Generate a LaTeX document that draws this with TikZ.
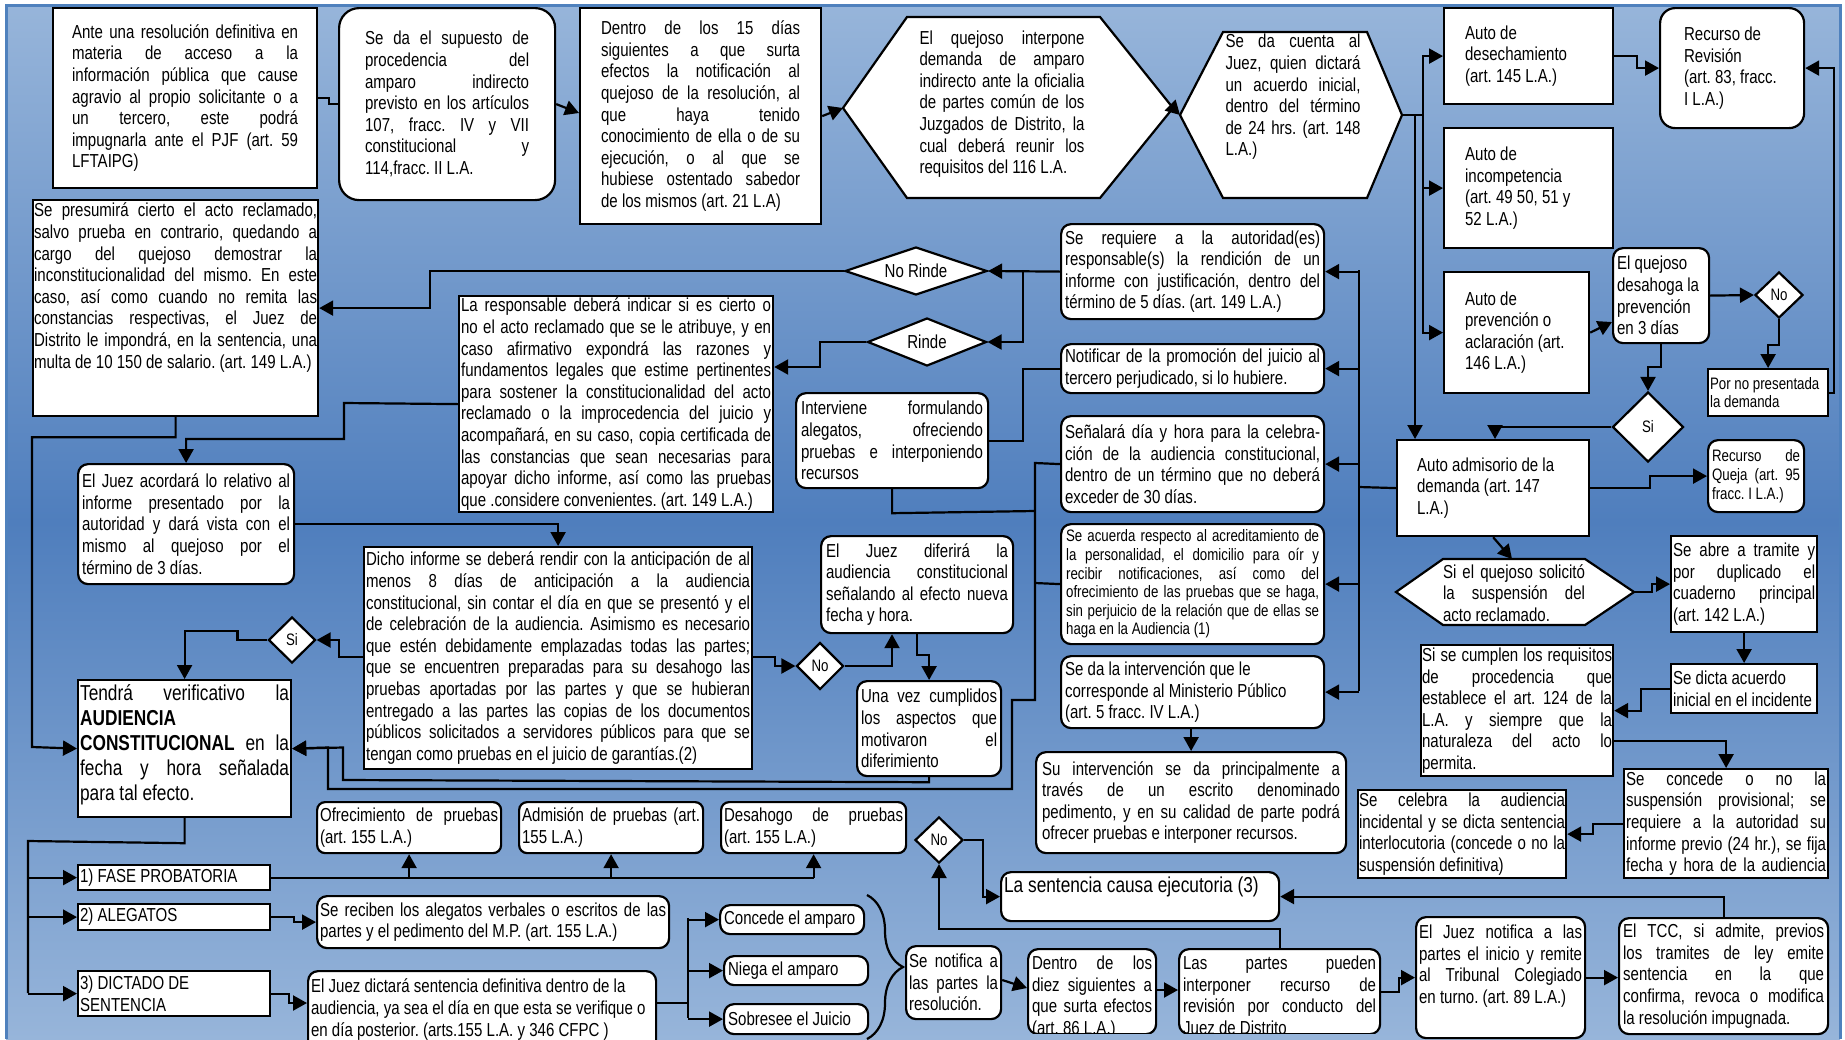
\documentclass[tikz,border=0pt]{standalone}
\usepackage{fontspec}
\setmainfont{Liberation Sans}[FakeStretch=0.80, WordSpace={1,4,0}]
\usetikzlibrary{arrows.meta,shapes.geometric}
\usetikzlibrary{decorations.pathreplacing}
\definecolor{fondoclaro}{HTML}{97B5DA}
\definecolor{fondooscuro}{HTML}{4F7EBD}
\definecolor{borde}{HTML}{4F81BD}
\newdimen\pxu \pxu=0.5pt
\tolerance=10000 \emergencystretch=2em \hbadness=10000 \hfuzz=3pt
\hyphenpenalty=10000 \exhyphenpenalty=10000
\adjdemerits=0 \linepenalty=200 \frenchspacing
\newcommand\letranormal{\fontsize{9.4}{10.8}\selectfont}
\newcommand\letrachica{\fontsize{8.3}{9.3}\selectfont}
\newcommand\letragrande{\fontsize{10.8}{12.5}\selectfont}
\newcommand\lb{\linebreak}
% caja: estilo, nombre, x1, y1, x2, y2, margen, alineacion vertical, texto
\newcommand\bx[9]{%
  \node[#1, anchor=north west, inner xsep=#7*0.5pt, inner ysep=0pt] (#2) at (#3,#4)
    {\parbox[t][\dimexpr#6\pxu-#4\pxu\relax][#8]{\dimexpr#5\pxu-#3\pxu-#7\pxu-#7\pxu\relax}{#9}};}

\begin{document}
\begin{tikzpicture}[x=0.5pt,y=-0.5pt,
    cuad/.style={draw, line width=1.1pt, fill=white, font=\letranormal},
    redo/.style={cuad, rounded corners=5pt},
    rombo/.style={draw, line width=1.1pt, fill=white, diamond, inner sep=0pt, font=\letrachica},
    texto/.style={inner sep=0pt, align=justify, font=\letranormal},
    ln/.style={line width=1.1pt},
    fl/.style={line width=1.1pt, -{Triangle[length=7pt,width=7.5pt]}}]
\useasboundingbox (0,0) rectangle (1845,1039);
\clip (0,0) rectangle (1845,1039);
\shade[top color=fondoclaro, bottom color=fondoclaro, middle color=fondooscuro] (6,5) rectangle (1840,1039);
\draw[borde, line width=1.5pt] (6,1039) -- (6,5) -- (1840,5) -- (1840,1039);

% fila superior
\bx{cuad}{ante}{52}{7}{316}{187}{19}{c}{Ante una resolución definitiva en\lb materia de acceso a la\lb información pública que cause\lb agravio al propio solicitante o a\lb un tercero, este podrá\lb impugnarla ante el PJF (art. 59\lb LFTAIPG)}
\bx{cuad, rounded corners=10pt}{supuesto}{338}{7}{554}{199}{26}{c}{Se da el supuesto de\lb procedencia del\lb amparo indirecto\lb previsto en los artículos\lb 107, fracc. IV y VII\lb constitucional y\lb 114,fracc. II L.A.}
\bx{cuad}{dentro15}{579}{7}{820}{223}{21}{c}{Dentro de los 15 días\lb siguientes a que surta\lb efectos la notificación al\lb quejoso de la resolución, al\lb que haya tenido\lb conocimiento de ella o de su\lb ejecución, o al que se\lb hubiese ostentado sabedor\lb de los mismos (art. 21 L.A)}
\draw[cuad] (843,108) -- (907,17) -- (1100,17) -- (1173,108) -- (1100,198) -- (907,198) -- cycle;
\node[texto, text width=82.5pt] (quejoso) at (1002,104) {El quejoso interpone\lb demanda de amparo\lb indirecto ante la oficialia\lb de partes común de los\lb Juzgados de Distrito, la\lb cual deberá reunir los\lb requisitos del 116 L.A.};
\coordinate (quejosoO) at (843,108);
\coordinate (quejosoE) at (1173,108);
\draw[cuad] (1180,115) -- (1223,32) -- (1367,32) -- (1402,115) -- (1367,198) -- (1223,198) -- cycle;
\node[texto, text width=67.5pt] (juez) at (1293,97) {Se da cuenta al\lb Juez, quien dictará\lb un acuerdo inicial,\lb dentro del término\lb de 24 hrs. (art. 148\lb L.A.)};
\coordinate (juezO) at (1180,115);
\coordinate (juezE) at (1402,115);
\coordinate (nudo1) at (1423,115);
\coordinate (nudo2) at (1415,115);

% columna derecha
\bx{cuad}{desech}{1443}{7}{1612}{103}{21}{c}{\raggedright Auto de\\ desechamiento\\ (art. 145 L.A.)}
\bx{cuad}{incomp}{1443}{127}{1612}{247}{21}{c}{\raggedright Auto de\\ incompetencia\\ (art. 49 50, 51 y\\ 52 L.A.)}
\bx{cuad}{prevenc}{1443}{271}{1588}{392}{21}{c}{\raggedright Auto de\\ prevención o\\ aclaración (art.\\ 146 L.A.)}
\bx{cuad, rounded corners=7.5pt}{revision}{1659}{7}{1803}{127}{24}{c}{\raggedright Recurso de\\ Revisión\\ (art. 83, fracc.\\ I L.A.)}
\bx{redo}{desahoga}{1612}{247}{1708}{342}{4}{c}{\raggedright El quejoso\\ desahoga la\\ prevención\\ en 3 días}
\node[rombo, minimum width=24pt, minimum height=23pt] (dno) at (1779,295) {No};
\bx{cuad, font=\letrachica}{nopres}{1707}{368}{1827}{415}{2}{c}{\raggedright Por no presentada\\ la demanda}
\node[rombo, minimum width=35.5pt, minimum height=35pt] (dsi) at (1648,427) {Si};
\bx{cuad}{admisorio}{1396}{439}{1588}{535}{20}{c}{\raggedright Auto admisorio de la\\ demanda (art. 147\\ L.A.)}
\bx{redo, font=\letrachica}{queja}{1707}{439}{1803}{511}{4}{c}{Recurso de\lb Queja (art. 95\lb fracc. I L.A.)}
\draw[cuad] (1396,592) -- (1443,559) -- (1585,559) -- (1634,592) -- (1585,625) -- (1443,625) -- cycle;
\node[texto, text width=71pt] (solicito) at (1514,593) {Si el quejoso solicitó\lb la suspensión del\lb acto reclamado.};
\coordinate (solicitoN) at (1512,559);
\coordinate (solicitoE) at (1634,592);
\bx{cuad}{seabre}{1670}{535}{1816}{631}{2}{c}{Se abre a tramite y\lb por duplicado el\lb cuaderno principal\lb (art. 142 L.A.)}
\bx{cuad}{sedicta}{1670}{663}{1816}{712}{2}{c}{\raggedright Se dicta acuerdo\\ inicial en el incidente}
\bx{cuad}{sicumplen}{1420}{644}{1612}{775}{1}{c}{Si se cumplen los requisitos\lb de procedencia que\lb establece el art. 124 de la\lb L.A. y siempre que la\lb naturaleza del acto lo\lb permita.}
\bx{cuad}{seconcede}{1623}{768}{1827}{877}{2}{c}{\parfillskip=0pt Se concede o no la\lb suspensión provisional; se\lb requiere a la autoridad su\lb informe previo (24 hr.), se fija\lb fecha y hora de la audiencia}
\bx{cuad}{secelebra}{1357}{789}{1565}{877}{1}{c}{Se celebra la audiencia\lb incidental y se dicta sentencia\lb interlocutoria (concede o no la\lb suspensión definitiva)}

% columna central
\bx{redo}{requiere}{1060}{223}{1323}{318}{4}{c}{Se requiere a la autoridad(es)\lb responsable(s) la rendición de un\lb informe con justificación, dentro del\lb término de 5 días. (art. 149 L.A.)}
\bx{redo}{notificar}{1060}{343}{1323}{392}{4}{c}{Notificar de la promoción del juicio al\lb tercero perjudicado, si lo hubiere.}
\bx{redo}{senalara}{1060}{415}{1323}{511}{4}{c}{Señalará día y hora para la celebra-\lb ción de la audiencia constitucional,\lb dentro de un término que no deberá\lb exceder de 30 días.}
\bx{redo, font=\letrachica}{acuerda}{1060}{523}{1323}{643}{5}{c}{Se acuerda respecto al acreditamiento de\lb la personalidad, el domicilio para oír y\lb recibir notificaciones, así como del\lb ofrecimiento de las pruebas que se haga,\lb sin perjuicio de la relación que de ellas se\lb haga en la Audiencia (1)}
\bx{redo}{interv}{1060}{655}{1323}{727}{4}{c}{\raggedright Se da la intervención que le\\ corresponde al Ministerio Público\\ (art. 5 fracc. IV L.A.)}
\bx{redo}{suinterv}{1035}{751}{1345}{852}{6}{c}{Su intervención se da principalmente a\lb través de un escrito denominado\lb pedimento, y en su calidad de parte podrá\lb ofrecer pruebas e interponer recursos.}
\node[rombo, font=\letranormal, aspect=3, minimum width=71pt, minimum height=24pt] (norinde) at (916,271) {No Rinde};
\node[rombo, font=\letranormal, aspect=2.5, minimum width=59.5pt, minimum height=24pt] (rinde) at (927,342) {Rinde};
\bx{redo}{interviene}{795}{392}{987}{487}{5}{c}{Interviene formulando\lb alegatos, ofreciendo\lb pruebas e interponiendo\lb recursos}
\bx{redo}{diferira}{820}{535}{1012}{632}{5}{c}{El Juez diferirá la\lb audiencia constitucional\lb señalando al efecto nueva\lb fecha y hora.}
\node[rombo, minimum width=23.5pt, minimum height=23.5pt] (dno2) at (820,666) {No};
\bx{redo}{cumplidos}{856}{680}{1000}{775}{4}{c}{Una vez cumplidos\lb los aspectos que\lb motivaron el\lb diferimiento}

% columna izquierda
\bx{cuad}{presumira}{32}{199}{317}{415}{1}{t}{\vspace*{3\pxu}Se presumirá cierto el acto reclamado,\lb salvo prueba en contrario, quedando a\lb cargo del quejoso demostrar la\lb inconstitucionalidad del mismo. En este\lb caso, así como cuando no remita las\lb constancias respectivas, el Juez de\lb Distrito le impondrá, en la sentencia, una\lb multa de 10 150 de salario. (art. 149 L.A.)}
\bx{cuad}{responsable}{458}{295}{772}{511}{2}{c}{La responsable deberá indicar si es cierto o\lb no el acto reclamado que se le atribuye, y en\lb caso afirmativo expondrá las razones y\lb fundamentos legales que estime pertinentes\lb para sostener la constitucionalidad del acto\lb reclamado o la improcedencia del juicio y\lb acompañará, en su caso, copia certificada de\lb las constancias que sean necesarias para\lb apoyar dicho informe, así como las pruebas\lb que .considere convenientes. (art. 149 L.A.)}
\bx{redo}{acordara}{77}{463}{293}{583}{4}{c}{El Juez acordará lo relativo al\lb informe presentado por la\lb autoridad y dará vista con el\lb mismo al quejoso por el\lb término de 3 días.}
\bx{cuad}{dicho}{363}{546}{751}{768}{2}{c}{Dicho informe se deberá rendir con la anticipación de al\lb menos 8 días de anticipación a la audiencia\lb constitucional, sin contar el día en que se presentó y el\lb de celebración de la audiencia. Asimismo es necesario\lb que estén debidamente emplazadas todas las partes;\lb que se encuentren preparadas para su desahogo las\lb pruebas aportadas por las partes y que se hubieran\lb entregado a las partes las copias de los documentos\lb públicos solicitados a servidores públicos para que se\lb tengan como pruebas en el juicio de garantías.(2)}
\node[rombo, minimum width=23.5pt, minimum height=23pt] (dsi2) at (292,640) {Si};
\bx{cuad, font=\letragrande}{tendra}{77}{679}{290}{816}{2}{t}{\vspace*{4\pxu}Tendrá verificativo la\lb\textbf{AUDIENCIA}\newline\textbf{CONSTITUCIONAL} en la\lb fecha y hora señalada\lb para tal efecto.}

% fila inferior
\bx{cuad}{fase1}{77}{864}{269}{889}{2}{c}{1) FASE PROBATORIA}
\bx{cuad}{fase2}{77}{903}{269}{929}{2}{c}{2) ALEGATOS}
\bx{cuad}{fase3}{77}{970}{269}{1015}{2}{c}{\raggedright 3) DICTADO DE\\ SENTENCIA}
\bx{redo, rounded corners=4pt}{ofrec}{316}{801}{500}{852}{3}{c}{Ofrecimiento de pruebas\lb (art. 155 L.A.)}
\bx{redo, rounded corners=4pt}{admision}{518}{801}{702}{852}{3}{c}{Admisión de pruebas (art.\lb 155 L.A.)}
\bx{redo, rounded corners=4pt}{desahogo}{720}{801}{905}{852}{3}{c}{Desahogo de pruebas\lb (art. 155 L.A.)}
\bx{redo}{alegatos}{316}{895}{668}{947}{3}{c}{Se reciben los alegatos verbales o escritos de las\lb partes y el pedimento del M.P. (art. 155 L.A.)}
\bx{redo}{dictara}{307}{970}{655}{1050}{3}{t}{\vspace*{8\pxu}\raggedright El Juez dictará sentencia definitiva dentro de la\\ audiencia, ya sea el día en que esta se verifique o\\ en día posterior. (arts.155 L.A. y 346 CFPC )}
\bx{redo}{concede}{719}{904}{863}{933}{4}{c}{Concede el amparo}
\bx{redo}{niega}{723}{955}{867}{984}{4}{c}{Niega el amparo}
\bx{redo}{sobresee}{723}{1003}{867}{1033}{4}{c}{Sobresee el Juicio}
\bx{redo}{senotifica}{905}{945}{1000}{1018}{3}{c}{Se notifica a\lb las partes la\lb resolución.}
\begin{scope}
\clip (1020,940) rectangle (1390,1033);
\bx{redo}{diez}{1027}{948}{1155}{1033}{4}{t}{\vspace*{7\pxu}Dentro de los\lb diez siguientes a\lb que surta efectos\lb (art. 86 L.A.)}
\bx{redo}{partes}{1178}{948}{1379}{1033}{4}{t}{\vspace*{7\pxu}Las partes pueden\lb interponer recurso de\lb revisión por conducto del\lb Juez de Distrito}
\end{scope}
\bx{redo}{notifica}{1415}{916}{1584}{1037}{3}{t}{\vspace*{8\pxu}El Juez notifica a las\lb partes el inicio y remite\lb al Tribunal Colegiado\lb en turno.~(art.~89~L.A.)}
\bx{redo}{tcc}{1618}{917}{1827}{1033}{4}{c}{El TCC, si admite, previos\lb los tramites de ley emite\lb sentencia en la que\lb confirma, revoca o modifica\lb la resolución impugnada.}
\bx{redo, font=\letragrande}{ejecutoria}{1000}{871}{1278}{920}{3}{t}{\vspace*{5\pxu}La sentencia causa ejecutoria (3)}
\node[rombo, minimum width=24pt, minimum height=23pt] (dno3) at (939,840) {No};

% conectores de arriba
\draw[ln] (ante.east) -- ++(11,0) |- (supuesto.west);
\draw[fl] (supuesto.east) -- (dentro15.west |- 0,113);
\draw[fl] (dentro15.east) -- (quejosoO);
\draw[fl] (quejosoE) -- (juezO);
\draw[ln] (juezE) -- (nudo1);
\foreach \n in {desech,incomp,prevenc} \draw[fl] (nudo1) |- (\n.west);
\draw[fl] (nudo2) -- (admisorio.north -| nudo2);
\draw[fl] (desech.east) -- ++(23,0) |- (revision.west);
\draw[fl] (prevenc.east) -- (desahoga.west |- 0,322);
\draw[fl] (desahoga.east) -- (dno.west);
\draw[fl] (dno.south) -- ++(0,26) -| (nopres.north);
\draw[fl] (nopres.east) -- ++(5,0) |- (revision.east);
\draw[fl] (desahoga.south) -- ++(0,23) -| (dsi.north);
\draw[fl] (dsi.west) -| (admisorio.north -| 1495,0);
\draw[fl] (admisorio.east) -- ++(60,0) |- (queja.west);
\draw[fl] (admisorio.south) -- (solicitoN);
\draw[fl] (solicitoE) -- ++(18,0) |- (seabre.west);
\draw[fl] (seabre.south) -- (sedicta.north);
\draw[fl] (sedicta.west) -- ++(-29,0) |- (sicumplen.east);
\draw[fl] (sicumplen.east |- 0,741) -| (seconcede.north);
\draw[fl] (seconcede.west) -- ++(-30,0) |- (secelebra.east);

% bus del auto admisorio
\draw[ln] (admisorio.west) -- (1359,487);
\draw[ln] (1359,270) -- (1359,691);
\foreach \n in {requiere,notificar,senalara,acuerda,interv} \draw[fl] (\n.east -| 1359,0) -- (\n.east);
\draw[fl] (interv.south -| suinterv.north) -- (suinterv.north);
\draw[fl] (requiere.west) -- (norinde.east);
\draw[fl] (requiere.west -| 1023,0) |- (rinde.east);
\draw[fl] (norinde.west) -- (430,271) |- (presumira.east);
\draw[fl] (rinde.west) -- (820,342) |- (responsable.east |- 0,367);
\draw[ln] (notificar.west) -- ++(-37,0) |- (interviene.east);
\draw[fl] (responsable.west) -- (344,403) -- (344,439) -| (acordara.north);
\draw[fl] (presumira.south) -- ++(0,20) -| (32,747) -- (tendra.west);
\draw[fl] (acordara.east) -| (dicho.north);
\draw[fl] (dicho.west |- 0,657) -- ++(-24,0) |- (dsi2.east);
\draw[fl] (dsi2.west) -- ++(-30,0) -- ++(0,-9) -| (tendra.north);
\draw[fl] (dicho.east |- 0,657) -- ++(22,0) |- (dno2.west);
\draw[fl] (dno2.east) -| (diferira.south -| 892,0);
\draw[fl] (diferira.south) -- ++(0,21) -| (cumplidos.north);
\draw[fl] (cumplidos.south) -- ++(0,5) -- (343,780) -- (343,747.5) -- (tendra.east);
\draw[ln] (interviene.south) -- ++(0,24) -- (1035,511);
\draw[ln] (acuerda.west) -- (1035,583);
\draw[fl] (senalara.west) -- (1035,463) -- (1035,700) -- (1012,700) -- (1012,789) -- (328,789) -- (328,747.5) -- (tendra.east);

% fases de la audiencia
\draw[ln] (tendra.south) -- ++(0,25) -- (28,841) -- (28,993);
\foreach \n in {fase1,fase2,fase3} \draw[fl] (\n.west -| 28,0) -- (\n.west);
\draw[ln] (fase1.east) -- (desahogo.south |- fase1.east);
\foreach \n in {ofrec,admision,desahogo} \draw[fl] (\n.south |- fase1.east) -- (\n.south);
\draw[fl] (fase2.east) -- ++(23,0) |- (alegatos.west);
\draw[fl] (fase3.east) -- ++(18,0) |- (dictara.west |- 0,1003);
\draw[ln] (dictara.east |- 0,1003) -- (688,1003);
\draw[ln] (688,918) -- (688,1018);
\foreach \n in {concede,niega,sobresee} \draw[fl] (\n.west -| 688,0) -- (\n.west);
\draw[ln, decorate, decoration={brace,amplitude=18pt}] (867,895) -- (867,1039);
\draw[fl] (senotifica.east |- 0,980) -- (diez.west |- 0,988);
\draw[fl] (diez.east |- 0,990) -- (partes.west |- 0,990);
\draw[fl] (partes.north) -- ++(0,-19) -| (dno3.south);
\draw[fl] (dno3.east) -- ++(19,0) |- (ejecutoria.west);
\draw[fl] (partes.east) -- ++(18,0) |- (notifica.west);
\draw[fl] (notifica.east) -- (tcc.west |- notifica.east);
\draw[fl] (tcc.north) |- (ejecutoria.east);
\end{tikzpicture}
\end{document}
